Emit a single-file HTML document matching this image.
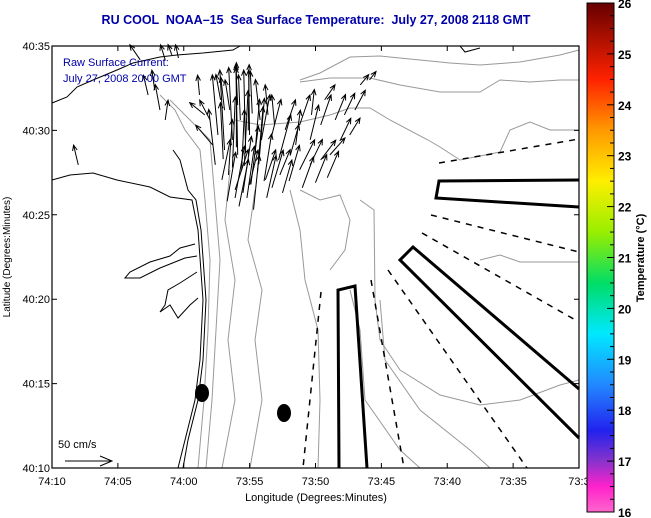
<!DOCTYPE html>
<html><head><meta charset="utf-8"><style>
body{margin:0;background:#fff;width:651px;height:518px;overflow:hidden}
svg{display:block;font-family:"Liberation Sans",sans-serif}
</style></head><body>
<svg id="map" width="651" height="518" viewBox="0 0 651 518" xmlns="http://www.w3.org/2000/svg">
<defs>
<linearGradient id="cb" x1="0" y1="1" x2="0" y2="0">
<stop offset="0" stop-color="#ff66cc"/><stop offset="0.05" stop-color="#ff22cc"/>
<stop offset="0.1" stop-color="#8833cc"/><stop offset="0.16" stop-color="#2222ee"/>
<stop offset="0.25" stop-color="#2288ff"/><stop offset="0.35" stop-color="#00e8ff"/>
<stop offset="0.45" stop-color="#00dd66"/><stop offset="0.55" stop-color="#99ee00"/>
<stop offset="0.65" stop-color="#ffee00"/><stop offset="0.75" stop-color="#ff9900"/>
<stop offset="0.85" stop-color="#ff2200"/><stop offset="1" stop-color="#660000"/>
</linearGradient>
</defs>
<text x="316" y="24" text-anchor="middle" font-size="12.5" font-weight="bold" fill="#0000aa" xml:space="preserve">RU COOL  NOAA–15  Sea Surface Temperature:  July 27, 2008 2118 GMT</text>
<rect x="52" y="46" width="527" height="422" fill="#fff"/>
<g fill="none" stroke="#999" stroke-width="1">
<path d="M300,80 L320,73 L350,57 L380,56 L420,60 L450,63 L480,65 L520,62 L560,55 L579,50"/>
<path d="M300,82 L330,78 L370,78 L400,85 L440,92 L480,92 L500,80 L530,82 L560,80 L579,80"/>
<path d="M235,120 L260,125 L300,122 L330,115 L350,108 L370,108 L390,120 L428,140 L440,147 L460,160 L480,156 L500,152 L510,130 L530,122 L550,130 L579,130"/>
<path d="M160,95 L175,110 L185,130 L200,150 L205,200 L210,260 L208,330 L204,400 L198,468"/>
<path d="M170,100 L190,120 L210,140 L215,200 L220,260 L216,330 L212,400 L206,468"/>
<path d="M230,170 L225,220 L235,280 L228,340 L235,400 L222,468"/>
<path d="M255,190 L248,240 L262,290 L255,340 L262,400 L250,468"/>
<path d="M290,190 L300,230 L305,280 L318,330 L320,400 L318,468"/>
<path d="M360,200 L374,210 L375,300 L380,340 L400,370 L440,395 L480,405 L520,400 L560,385 L579,380"/>
<path d="M350,290 L360,330 L365,400 L400,450 L420,468"/>
<path d="M380,300 L385,360 L420,410 L470,450 L490,468"/>
<path d="M300,190 L320,200 L340,195 L350,220 L345,250 L330,270"/>
<path d="M480,260 L500,255 L520,262 L579,262"/>
</g>
<g fill="none" stroke="#000" stroke-width="1">
<path d="M52,103 L67,97 L77,87 L93,80 L117,70 L133,63 L160,57 L177,55 L203,53 L233,50 L240,46"/>
<path d="M52,180 L70,175 L93,173 L117,180 L150,187 L170,197 L192,200 L198,230 L203,300 L200,360 L195,400 L185,440 L178,468"/>
<path d="M173,150 L180,160 L188,190 L196,200 L201,230 L206,300 L203,360 L198,400 L188,440 L183,468"/>
<path d="M195,244 L180,248 L170,256 L150,262 L130,272 L125,278 L140,278 L160,268 L185,258 L197,256"/>
<path d="M197,272 L180,283 L168,290 L165,305 L160,312 L170,305 L178,318 L190,305 L198,298"/>
<path d="M460,46 L465,52 L480,48"/>
</g>
<g stroke="#000" stroke-width="1.5" stroke-dasharray="6,6" fill="none">
<line x1="439" y1="163" x2="579" y2="139"/>
<line x1="431" y1="215" x2="579" y2="252"/>
<line x1="422" y1="233" x2="579" y2="322"/>
<line x1="388" y1="270" x2="527" y2="468"/>
<line x1="371" y1="280" x2="404" y2="468"/>
<line x1="321" y1="292" x2="303" y2="468"/>
</g>
<g stroke="#000" stroke-width="3" fill="none">
<polyline points="579,180 439,181 436,198 579,207"/>
<polyline points="579,389 413,247 400,260 579,438"/>
<polyline points="339,468 338,290 355,286 367,468"/>
</g>
<ellipse cx="202" cy="393" rx="7" ry="9"/>
<ellipse cx="284" cy="413" rx="7" ry="9"/>
<g id="arrows" stroke="#000" stroke-width="1" fill="none"></g>
<g>
<text x="58" y="448" font-size="11">50 cm/s</text>
<path d="M65,461 L112,461 M100,456 L112,461 L100,466" stroke="#000" fill="none"/>
</g>
<text x="63" y="66" font-size="11" fill="#0000aa">Raw Surface Current:</text>
<text x="63" y="82" font-size="11" fill="#0000aa">July 27, 2008 20:00 GMT</text>
<rect x="52" y="46" width="527" height="422" fill="none" stroke="#000" stroke-width="1.2"/>
<g id="axes"></g>
<text x="316" y="501" text-anchor="middle" font-size="11">Longitude (Degrees:Minutes)</text>
<text transform="translate(10,257) rotate(-90)" text-anchor="middle" font-size="10">Latitude (Degrees:Minutes)</text>
<rect x="587" y="3" width="27" height="509" fill="url(#cb)" stroke="#000"/>
<g id="cbar"></g>
<text transform="translate(644,258) rotate(-90)" text-anchor="middle" font-size="11" font-weight="bold">Temperature (°C)</text>
</svg>
<script>
const xTickLabels=["74:10","74:05","74:00","73:55","73:50","73:45","73:40","73:35","73:3"];
const yTickLabels=["40:10","40:15","40:20","40:25","40:30","40:35"];
const cbTicks=[16,17,18,19,20,21,22,23,24,25,26];
// current vectors: lon = minutes east of 74:00 W, lat = minutes north of 40:00, u/v in cm/s
const arrLon=[2.5,3.0,3.6,4.0,4.6,4.9,2.3,3.3,4.3,5.3,5.8,1.9,1.5,2.1,6.5,7.1,7.6,8.4,8.7,9.5,10.3,10.6,11.4,12.1,12.9,13.3,14.0,8.7,9.5,10.3,11.0,11.8,12.5,7.2,6.1,4.9,3.8,2.8,8.0,9.6,1.1,-2.3,-1.9,-1.5,-2.8,-8.1,-3.4,-1.5,-1.0,-0.5,5.7,6.3,6.8,4.2,2.7,3.4,
3.8,4.4,5.0,5.5,3.2,4.1,4.7,5.2,3.6,4.5,5.6,6.0,2.9,3.9,4.8,6.6,7.4,7.9,8.9,9.9,10.8,5.1,4.0,3.0,6.2];
const arrLat=[29.73,28.84,29.44,28.55,28.84,29.73,27.96,27.36,27.66,28.55,29.44,30.62,30.92,29.14,29.44,28.25,30.03,29.14,30.32,29.44,30.32,31.81,30.62,30.92,31.21,32.69,32.99,27.66,27.96,28.25,28.55,29.44,29.73,27.36,27.07,26.77,26.47,27.07,28.55,30.92,32.10,32.40,31.21,30.62,32.10,27.96,34.18,34.18,34.47,34.29,30.62,30.92,30.32,30.62,31.81,31.21,
26.0,26.3,26.8,27.5,25.8,25.5,26.0,25.3,27.8,27.9,28.0,27.0,28.3,29.0,30.0,26.6,26.3,27.0,26.6,26.9,27.2,31.0,31.5,31.2,26.0];
const arrU=[-6,-5,-4,-2,-2,-1,-7,4,3,5,9,-11,-16,-18,11,13,11,5,11,9,11,11,11,11,11,9,7,16,13,16,16,11,11,11,11,9,14,9,9,3,-2,-3,-5,3,-5,-5,-11,-5,-4,-3,-5,-3,-3,-2,-5,-5,
10,9,8,6,9,10,8,6,3,4,6,8,-3,0,1,12,10,11,12,12,12,-2,-2,-4,10];
const arrV=[64,85,77,96,85,69,59,59,64,59,48,21,13,21,43,48,32,37,32,37,32,16,27,23,21,11,9,32,27,21,18,23,18,27,32,37,43,43,32,27,21,21,27,21,21,21,16,16,11,14,43,32,32,48,27,32,
55,60,62,70,52,50,55,58,75,80,70,50,60,90,70,40,35,38,33,30,28,45,40,35,45];
const NS="http://www.w3.org/2000/svg";
const x0=52,x1=579,y0=46,y1=468;
const xScale=lonE=>185+lonE*(x1-x0)/40;
const yScale=lat=>y1-(lat-10)*(y1-y0)/25;
const vScale=0.94;
const ag=document.getElementById('arrows');
for(let i=0;i<arrLon.length;i++){
  const tx=xScale(arrLon[i]),ty=yScale(arrLat[i]);
  const hx=tx+arrU[i]*vScale,hy=ty-arrV[i]*vScale;
  const ang=Math.atan2(hy-ty,hx-tx),L=6;
  const p=document.createElementNS(NS,'path');
  p.setAttribute('d',`M${tx},${ty}L${hx},${hy}M${hx-L*Math.cos(ang-0.4)},${hy-L*Math.sin(ang-0.4)}L${hx},${hy}L${hx-L*Math.cos(ang+0.4)},${hy-L*Math.sin(ang+0.4)}`);
  
  
  ag.appendChild(p);
}
const ax=document.getElementById('axes');
function mk(tag,attrs,txt){const e=document.createElementNS(NS,tag);for(const k in attrs)e.setAttribute(k,attrs[k]);if(txt!==undefined)e.textContent=txt;return e;}
xTickLabels.forEach((t,i)=>{
  const x=x0+i*(x1-x0)/(xTickLabels.length-1);
  const l=mk('path',{d:`M${x},${y1}V${y1-5}M${x},${y0}V${y0+5}`,stroke:'#000'});
  
  
  ax.appendChild(l);
  const tx=mk('text',{x:x,y:485,'text-anchor':'middle','font-size':'11'},t);
  
  
  ax.appendChild(tx);
});
yTickLabels.forEach((t,i)=>{
  const y=y1-i*(y1-y0)/(yTickLabels.length-1);
  const l=mk('path',{d:`M${x0},${y}H${x0+5}M${x1},${y}H${x1-5}`,stroke:'#000'});
  
  
  ax.appendChild(l);
  const tx=mk('text',{x:50,y:y+4,'text-anchor':'end','font-size':'11'},t);
  
  
  ax.appendChild(tx);
});
const cg=document.getElementById('cbar');
const cb0=512,cb1=3;
const cScale=v=>cb0-(v-cbTicks[0])*(cb0-cb1)/(cbTicks[cbTicks.length-1]-cbTicks[0]);
cbTicks.forEach((v,i)=>{
  const y=cScale(v);
  const tx=mk('text',{x:618,y:y+5,'font-size':'12','font-weight':'bold'},String(v));
  
  
  cg.appendChild(tx);
  for(let k=0;k<4;k++){
    if(i===cbTicks.length-1&&k>0)break;
    const yy=cScale(v+k*0.25);
    const l=mk('path',{d:`M${614},${yy}H${k?610:607}`,stroke:'#000'});
    
    
    cg.appendChild(l);
  }
});
</script>
</body></html>
